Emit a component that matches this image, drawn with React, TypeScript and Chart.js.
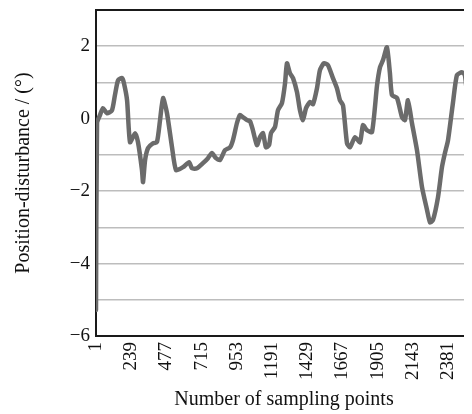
import React, { useEffect, useRef } from "react";
import { Chart, registerables } from "chart.js";

Chart.register(...registerables);

const sampleIndex = [
  1, 8, 28, 48, 75, 109, 129, 150, 177, 190, 211, 231, 265, 285, 312, 319, 333, 353, 386, 413,
  434, 454, 481, 515, 542, 589, 630, 650, 684, 724, 758, 785, 812, 839, 873, 907, 927, 954, 974, 995,
  1022, 1042, 1062, 1089, 1110, 1130, 1150, 1171, 1184, 1211, 1231, 1258, 1279, 1292, 1312, 1333, 1360, 1380, 1400, 1421,
  1448, 1468, 1495, 1515, 1542, 1569, 1603, 1630, 1650, 1671, 1698, 1718, 1752, 1786, 1806, 1833, 1867, 1901, 1921, 1941,
  1968, 1988, 2002, 2036, 2070, 2090, 2110, 2137, 2171, 2205, 2239, 2259, 2279, 2313, 2340, 2360, 2381, 2414, 2441, 2475,
  2495, 2515, 2543,
];

const disturbance = [
  -5.28, -0.12, 0.1, 0.29, 0.15, 0.23, 0.65, 1.06, 1.12, 0.98, 0.51, -0.65, -0.4, -0.65, -1.42, -1.75, -1.14, -0.81, -0.68, -0.65,
  -0.04, 0.57, 0.15, -0.79, -1.42, -1.34, -1.2, -1.37, -1.37, -1.23, -1.09, -0.95, -1.09, -1.14, -0.87, -0.79, -0.59, -0.12, 0.1, 0.04,
  -0.04, -0.07, -0.32, -0.73, -0.51, -0.4, -0.79, -0.73, -0.4, -0.23, 0.23, 0.43, 0.98, 1.53, 1.26, 1.12, 0.73, 0.23, -0.04, 0.29,
  0.46, 0.4, 0.84, 1.34, 1.53, 1.48, 1.12, 0.84, 0.51, 0.37, -0.68, -0.79, -0.51, -0.65, -0.18, -0.32, -0.37, 0.92, 1.42, 1.61,
  1.97, 1.26, 0.65, 0.57, 0.04, -0.04, 0.51, -0.12, -0.87, -1.89, -2.52, -2.86, -2.8, -2.17, -1.34, -0.95, -0.59, 0.43, 1.2, 1.28,
  1.2, 0.43, -0.51,
];

const xTickValues = [1, 239, 477, 715, 953, 1191, 1429, 1667, 1905, 2143, 2381];
const yMin = -6;
const yMax = 3;
const xMin = 1;
const xMax = 2543;

const xTitle = "Number of sampling points";
const yTitle = "Position-disturbance / (°)";

const FONT = "'Liberation Serif', 'Times New Roman', serif";

const topBorder = {
  id: "topBorder",
  afterDraw(chart: any) {
    const { ctx, chartArea } = chart;
    ctx.save();
    ctx.strokeStyle = "#1a1a1a";
    ctx.lineWidth = 2;
    ctx.beginPath();
    ctx.moveTo(chartArea.left - 1, chartArea.top);
    ctx.lineTo(chartArea.right, chartArea.top);
    ctx.stroke();
    ctx.restore();
  },
};

export default function App() {
  const ref = useRef<HTMLCanvasElement | null>(null);

  useEffect(() => {
    if (!ref.current) return;
    const points = sampleIndex.map((x, i) => ({ x, y: disturbance[i] }));
    const chart = new Chart(ref.current, {
      type: "line",
      data: {
        datasets: [
          {
            data: points,
            borderColor: "#6b6b6b",
            borderWidth: 4.5,
            pointRadius: 0,
            tension: 0.2,
            fill: false,
            borderJoinStyle: "round",
            borderCapStyle: "round",
          },
        ],
      },
      options: {
        animation: false,
        responsive: false,
        layout: { padding: { top: 2, right: 0, bottom: 0, left: 0 } },
        plugins: { legend: { display: false }, tooltip: { enabled: false } },
        scales: {
          x: {
            type: "linear",
            min: xMin,
            max: xMax,
            afterBuildTicks: (scale: any) => {
              scale.ticks = xTickValues.map((v) => ({ value: v }));
            },
            afterFit: (scale: any) => {
              scale.height = 78;
              scale.paddingLeft = 0;
              scale.paddingRight = 0;
            },
            grid: { display: false, drawTicks: false },
            border: { display: true, color: "#1a1a1a", width: 2 },
            ticks: {
              autoSkip: false,
              minRotation: 90,
              maxRotation: 90,
              padding: 6,
              color: "#111",
              font: { family: FONT, size: 19 },
              callback: (v: any) => String(v),
            },
            title: {
              display: true,
              text: xTitle,
              color: "#111",
              font: { family: FONT, size: 20 },
              padding: { top: 0, bottom: 2 },
            },
          },
          y: {
            min: yMin,
            max: yMax,
            afterFit: (scale: any) => {
              scale.width = 88;
              scale.paddingTop = 0;
              scale.paddingBottom = 0;
            },
            grid: { color: "#bdbdbd", lineWidth: 1.5, drawTicks: false },
            border: { display: true, color: "#1a1a1a", width: 2 },
            ticks: {
              stepSize: 1,
              padding: 6,
              color: "#111",
              font: { family: FONT, size: 19 },
              callback: (v: any) => {
                const n = Number(v);
                if (n % 2 !== 0) return "";
                return n < 0 ? "\u2212" + Math.abs(n) : String(n);
              },
            },
            title: {
              display: true,
              text: yTitle,
              color: "#111",
              font: { family: FONT, size: 20 },
              padding: { top: 4, bottom: 0 },
            },
          },
        },
      },
      plugins: [topBorder],
    });
    return () => chart.destroy();
  }, []);

  return (
    <div style={{ width: 464, height: 406 }}>
      <canvas ref={ref} width={464} height={406} style={{ display: "block" }} />
    </div>
  );
}
